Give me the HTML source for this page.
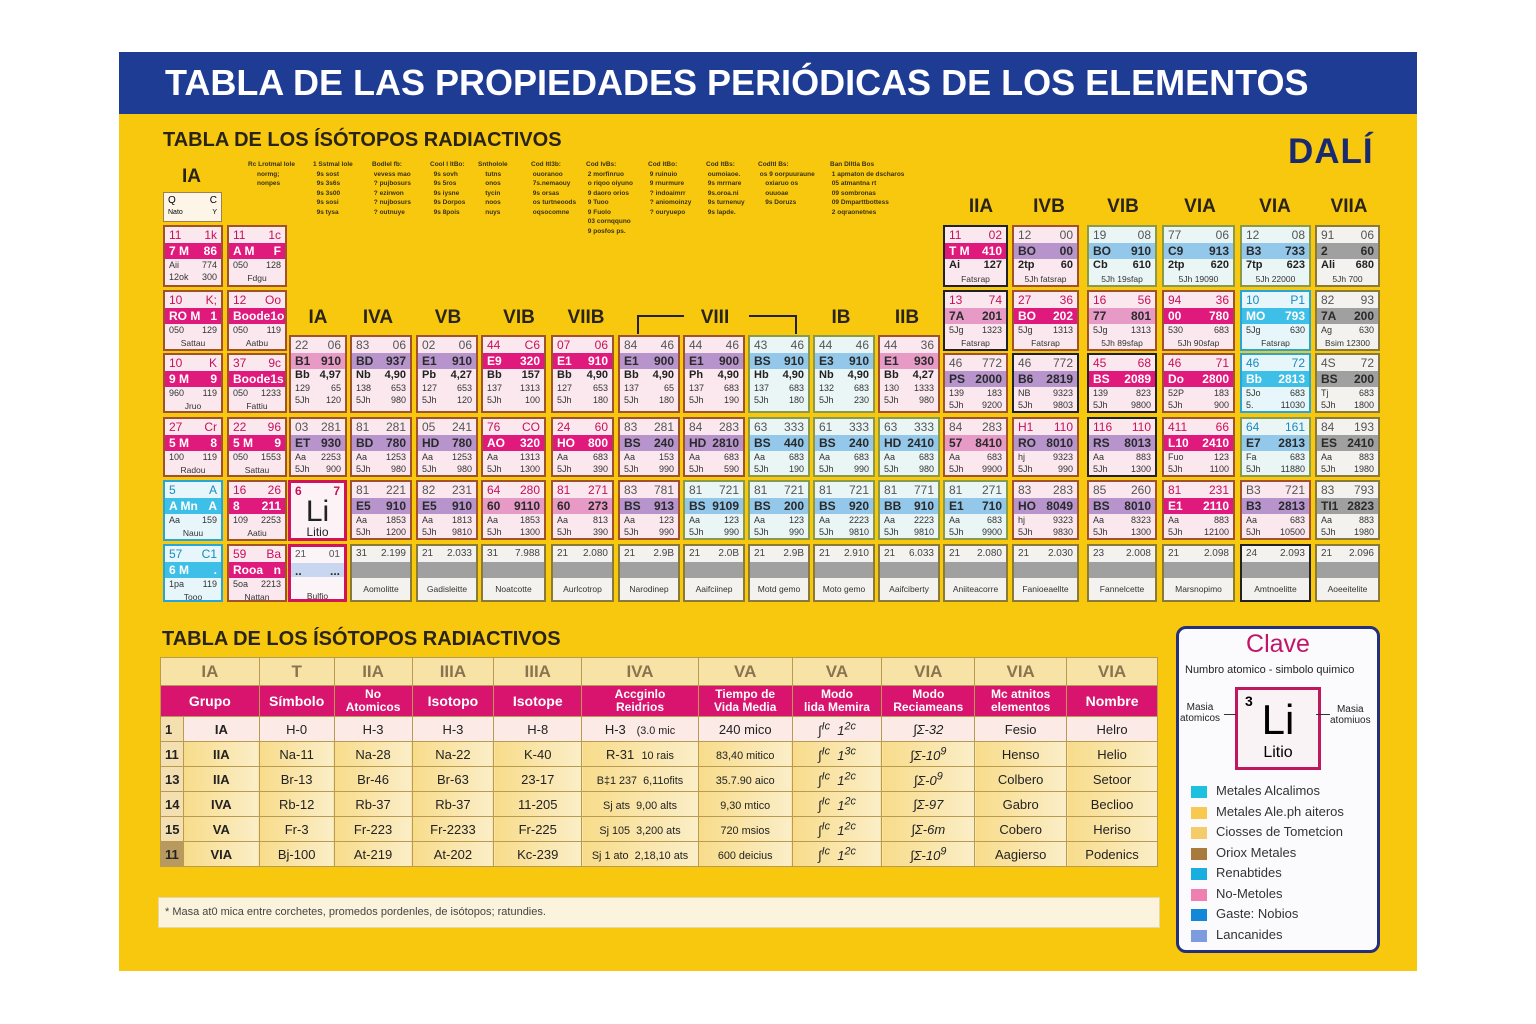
<!DOCTYPE html>
<html><head><meta charset="utf-8">
<style>
body{margin:0;width:1536px;height:1024px;background:#fff;position:relative;overflow:hidden;font-family:"Liberation Sans",sans-serif}
.a{position:absolute}
#panel{left:119px;top:52px;width:1298px;height:919px;background:#f8c80e}
#bar{left:119px;top:52px;width:1298px;height:62px;background:#1f3c95;color:#fff;font-weight:bold;font-size:36px;line-height:62px;box-sizing:border-box;padding-left:46px}
.hd{font-weight:bold;color:#2a2418;font-size:20px}
.gh{font-weight:bold;color:#2a2418;font-size:19px;text-align:center;width:70px}
.n{font-size:6.5px;font-weight:bold;color:#3a3010;line-height:9.5px;white-space:pre}
.c{position:absolute;box-sizing:border-box;border:2px solid #a0522d;background:#fbe8ef;font-size:9px;color:#333;overflow:hidden}
.c p{margin:0;display:flex;justify-content:space-between;padding:0 4px}
.c .t{font-size:12px;color:#c8105a;height:16px;line-height:16px}
.c .h{font-size:12px;font-weight:bold;height:16px;line-height:16px;color:#2a2a2a}
.c .r{line-height:12px;font-size:9px}
.c .r2{line-height:13px;font-size:11px;font-weight:bold;color:#222}
.c .nm{justify-content:center;font-size:8.5px;line-height:14px}
.m{background:#e0197d;color:#fff!important}
.v{background:#b794cc}
.k{background:#e79ac5}
.bl{background:#93c8ea}
.cy{background:#3dbfe8;color:#fff!important}
.g{background:#a0a0a0}
.cb{background:#eaf5f6;border-color:#8a9a4a}
.cc{background:#e6f6fa;border-color:#27a4d8}
.cg{background:#f3f2ee;border-color:#8a7a3a}
.cg .nm{margin-top:4px}
.ck{border-color:#222}
table{border-collapse:collapse;position:absolute;left:160px;top:657px;width:998px;font-size:13px;color:#222}
td{border:1px solid #b89a50;text-align:center;padding:0;height:24px}
.th1 td{background:#f7e3a6;color:#8a7450;font-weight:bold;font-size:17px;height:27px}
.th2 td{background:#d8146e;color:#fff;font-weight:bold;font-size:14px;height:30px;line-height:13px}
.th2 td.s{font-size:12px}
tr.r1 td{background:#fbeae6}
tr.ry td{background:linear-gradient(90deg,#f8dc8a,#fbeec8)}
td.no{background:#f3dfb0!important;font-weight:bold;text-align:left;padding-left:4px;width:18px}
.leg{position:absolute;left:1191px;width:16px;height:12px}
.lt{position:absolute;left:1216px;font-size:13px;color:#333}
</style></head><body>
<div class="a" id="panel"></div>
<div class="a" id="bar">TABLA DE LAS PROPIEDADES PERIÓDICAS DE LOS ELEMENTOS</div>
<div class="a hd" style="left:163px;top:129px">TABLA DE LOS ÍSÓTOPOS RADIACTIVOS</div>
<div class="a" style="left:1288px;top:132px;font-size:35px;font-weight:bold;color:#1a2a6e;letter-spacing:1px">DALÍ</div>
<div class="a hd" style="left:182px;top:166px;font-size:19px">IA</div>
<div class="a" style="left:163px;top:192px;width:59px;height:30px;background:#fdf6e8;border:1px solid #a08050;box-sizing:border-box;font-size:9px;padding:2px 4px;line-height:12px"><div style="display:flex;justify-content:space-between;font-size:10px"><span>Q</span><span>C</span></div><div style="display:flex;justify-content:space-between;font-size:7px"><span>Nato</span><span>Y</span></div></div>
<div class="a n" style="left:248px;top:160px">Rc Lrotmal lole
     normg;
     nonpes</div>
<div class="a n" style="left:313px;top:160px">1 Sstmal lole
  9s sost
  9s 3s6s
  9s 3s00
  9s sosi
  9s tysa</div>
<div class="a n" style="left:372px;top:160px">Bodlel fb:
 vevess mao
 ? pujbosurs
 ? ezirwon
 ? nujbosurs
 ? outnuye</div>
<div class="a n" style="left:430px;top:160px">Cool l ltBo:
  9s sovh
  9s 5ros
  9s iysne
  9s Dorpos
  9s 8pois</div>
<div class="a n" style="left:478px;top:160px">Sntholole
    tutns
    onos
    tycin
    noos
    nuys</div>
<div class="a n" style="left:531px;top:160px">Cod ltl3b:
 ouoranoo
 7s.nemaouy
 9s orsas
 os turtneoods
 oqsocomne</div>
<div class="a n" style="left:586px;top:160px">Cod lvBs:
 2 morfinruo
 o riqoo oiyuno
 9 daoro orios
 9 Tuoo
 9 Fuolo
 03 cornqquno
 9 posfos ps.</div>
<div class="a n" style="left:648px;top:160px">Cod ltBo:
 9 ruinuio
 9 rnurmure
 ? indoaimrr
 ? aniomoinzy
 ? ouryuepo</div>
<div class="a n" style="left:706px;top:160px">Cod ltBs:
 oumoiaoe.
 9s mrrnare
 9s.oroa.ni
 9s turnenuy
 9s lapde.</div>
<div class="a n" style="left:758px;top:160px">Codltl Bs:
 os 9 oorpuuraune
    oxiaruo os
    ouuoae
    9s Doruzs</div>
<div class="a n" style="left:830px;top:160px">Ban Dlltla Bos
 1 apmaton de dscharos
 05 atmantna rt
 09 sombronas
 09 Dmparttbottess
 2 oqraonetnes</div>

<div class="a gh" style="left:283px;top:307px">IA</div>
<div class="a gh" style="left:343px;top:307px">IVA</div>
<div class="a gh" style="left:413px;top:307px">VB</div>
<div class="a gh" style="left:484px;top:307px">VIB</div>
<div class="a gh" style="left:551px;top:307px">VIIB</div>
<div class="a gh" style="left:680px;top:307px">VIII</div>
<div class="a" style="left:637px;top:315px;width:45px;height:17px;border-left:2px solid #222;border-top:2px solid #222"></div>
<div class="a" style="left:749px;top:315px;width:46px;height:17px;border-right:2px solid #222;border-top:2px solid #222"></div>
<div class="a gh" style="left:806px;top:307px">IB</div>
<div class="a gh" style="left:872px;top:307px">IIB</div>
<div class="a gh" style="left:946px;top:196px">IIA</div>
<div class="a gh" style="left:1014px;top:196px">IVB</div>
<div class="a gh" style="left:1088px;top:196px">VIB</div>
<div class="a gh" style="left:1165px;top:196px">VIA</div>
<div class="a gh" style="left:1240px;top:196px">VIA</div>
<div class="a gh" style="left:1314px;top:196px">VIIA</div>

<div class="c" style="left:163px;top:225px;width:60px;height:62px"><p class="t"><span>11</span><span>1k</span></p><p class="h m"><span>7 M</span><span>86</span></p><p class="r"><span>Aii</span><span>774</span></p><p class="r"><span>12ok</span><span>300</span></p></div>
<div class="c" style="left:227px;top:225px;width:60px;height:62px"><p class="t"><span>11</span><span>1c</span></p><p class="h m"><span>A M</span><span>F</span></p><p class="r"><span>050</span><span>128</span></p><p class="nm">Fdgu</p></div>
<div class="c" style="left:163px;top:290px;width:60px;height:61px"><p class="t"><span>10</span><span>K;</span></p><p class="h m"><span>RO M</span><span>1</span></p><p class="r"><span>050</span><span>129</span></p><p class="nm">Sattau</p></div>
<div class="c" style="left:227px;top:290px;width:60px;height:61px"><p class="t"><span>12</span><span>Oo</span></p><p class="h m"><span>Boode</span><span>1o</span></p><p class="r"><span>050</span><span>119</span></p><p class="nm">Aatbu</p></div>
<div class="c" style="left:163px;top:353px;width:60px;height:60px"><p class="t"><span>10</span><span>K</span></p><p class="h m"><span>9 M</span><span>9</span></p><p class="r"><span>960</span><span>119</span></p><p class="nm">Jruo</p></div>
<div class="c" style="left:227px;top:353px;width:60px;height:60px"><p class="t"><span>37</span><span>9c</span></p><p class="h m"><span>Boode</span><span>1s</span></p><p class="r"><span>050</span><span>1233</span></p><p class="nm">Fattiu</p></div>
<div class="c" style="left:163px;top:417px;width:60px;height:60px"><p class="t"><span>27</span><span>Cr</span></p><p class="h m"><span>5 M</span><span>8</span></p><p class="r"><span>100</span><span>119</span></p><p class="nm">Radou</p></div>
<div class="c" style="left:227px;top:417px;width:60px;height:60px"><p class="t"><span>22</span><span>96</span></p><p class="h m"><span>5 M</span><span>9</span></p><p class="r"><span>050</span><span>1553</span></p><p class="nm">Sattau</p></div>
<div class="c cc" style="left:163px;top:480px;width:60px;height:61px"><p class="t" style="color:#1a8ac0"><span>5</span><span>A</span></p><p class="h cy"><span>A Mn</span><span>A</span></p><p class="r"><span>Aa</span><span>159</span></p><p class="nm">Nauu</p></div>
<div class="c" style="left:227px;top:480px;width:60px;height:61px"><p class="t"><span>16</span><span>26</span></p><p class="h m"><span>8</span><span>211</span></p><p class="r"><span>109</span><span>2253</span></p><p class="nm">Aatiu</p></div>
<div class="c cc" style="left:163px;top:544px;width:60px;height:58px"><p class="t" style="color:#1a8ac0"><span>57</span><span>C1</span></p><p class="h cy"><span>6 M</span><span>.</span></p><p class="r"><span>1pa</span><span>119</span></p><p class="nm">Tooo</p></div>
<div class="c" style="left:227px;top:544px;width:60px;height:58px"><p class="t"><span>59</span><span>Ba</span></p><p class="h m"><span>Rooa</span><span>n</span></p><p class="r"><span>5oa</span><span>2213</span></p><p class="nm">Nattan</p></div>

<div class="c" style="left:289px;top:335px;width:58px;height:78px"><p class="t" style="color:#555"><span>22</span><span>06</span></p><p class="h k"><span>B1</span><span>910</span></p><p class="r2"><span>Bb</span><span>4,97</span></p><p class="r"><span>129</span><span>65</span></p><p class="r"><span>5Jh</span><span>120</span></p></div>
<div class="c" style="left:350px;top:335px;width:62px;height:78px"><p class="t" style="color:#555"><span>83</span><span>06</span></p><p class="h v"><span>BD</span><span>937</span></p><p class="r2"><span>Nb</span><span>4,90</span></p><p class="r"><span>138</span><span>653</span></p><p class="r"><span>5Jh</span><span>980</span></p></div>
<div class="c" style="left:416px;top:335px;width:62px;height:78px"><p class="t" style="color:#555"><span>02</span><span>06</span></p><p class="h v"><span>E1</span><span>910</span></p><p class="r2"><span>Pb</span><span>4,27</span></p><p class="r"><span>127</span><span>653</span></p><p class="r"><span>5Jh</span><span>120</span></p></div>
<div class="c" style="left:481px;top:335px;width:65px;height:78px"><p class="t"><span>44</span><span>C6</span></p><p class="h m"><span>E9</span><span>320</span></p><p class="r2"><span>Bb</span><span>157</span></p><p class="r"><span>137</span><span>1313</span></p><p class="r"><span>5Jh</span><span>100</span></p></div>
<div class="c" style="left:551px;top:335px;width:63px;height:78px"><p class="t"><span>07</span><span>06</span></p><p class="h m"><span>E1</span><span>910</span></p><p class="r2"><span>Bb</span><span>4,90</span></p><p class="r"><span>127</span><span>653</span></p><p class="r"><span>5Jh</span><span>180</span></p></div>
<div class="c" style="left:618px;top:335px;width:62px;height:78px"><p class="t" style="color:#555"><span>84</span><span>46</span></p><p class="h v"><span>E1</span><span>900</span></p><p class="r2"><span>Bb</span><span>4,90</span></p><p class="r"><span>137</span><span>65</span></p><p class="r"><span>5Jh</span><span>180</span></p></div>
<div class="c" style="left:683px;top:335px;width:62px;height:78px"><p class="t" style="color:#555"><span>44</span><span>46</span></p><p class="h v"><span>E1</span><span>900</span></p><p class="r2"><span>Ph</span><span>4,90</span></p><p class="r"><span>137</span><span>683</span></p><p class="r"><span>5Jh</span><span>190</span></p></div>
<div class="c cb" style="left:748px;top:335px;width:62px;height:78px"><p class="t" style="color:#555"><span>43</span><span>46</span></p><p class="h bl"><span>BS</span><span>910</span></p><p class="r2"><span>Hb</span><span>4,90</span></p><p class="r"><span>137</span><span>683</span></p><p class="r"><span>5Jh</span><span>180</span></p></div>
<div class="c cb" style="left:813px;top:335px;width:62px;height:78px"><p class="t" style="color:#555"><span>44</span><span>46</span></p><p class="h bl"><span>E3</span><span>910</span></p><p class="r2"><span>Nb</span><span>4,90</span></p><p class="r"><span>132</span><span>683</span></p><p class="r"><span>5Jh</span><span>230</span></p></div>
<div class="c" style="left:878px;top:335px;width:62px;height:78px"><p class="t" style="color:#555"><span>44</span><span>36</span></p><p class="h k"><span>E1</span><span>930</span></p><p class="r2"><span>Bb</span><span>4,27</span></p><p class="r"><span>130</span><span>1333</span></p><p class="r"><span>5Jh</span><span>980</span></p></div>

<div class="c" style="left:289px;top:417px;width:58px;height:60px"><p class="t" style="color:#555"><span>03</span><span>281</span></p><p class="h v"><span>ET</span><span>930</span></p><p class="r"><span>Aa</span><span>2253</span></p><p class="r"><span>5Jh</span><span>900</span></p></div>
<div class="c" style="left:350px;top:417px;width:62px;height:60px"><p class="t" style="color:#555"><span>81</span><span>281</span></p><p class="h v"><span>BD</span><span>780</span></p><p class="r"><span>Aa</span><span>1253</span></p><p class="r"><span>5Jh</span><span>980</span></p></div>
<div class="c" style="left:416px;top:417px;width:62px;height:60px"><p class="t" style="color:#555"><span>05</span><span>241</span></p><p class="h v"><span>HD</span><span>780</span></p><p class="r"><span>Aa</span><span>1253</span></p><p class="r"><span>5Jh</span><span>980</span></p></div>
<div class="c" style="left:481px;top:417px;width:65px;height:60px"><p class="t"><span>76</span><span>CO</span></p><p class="h m"><span>AO</span><span>320</span></p><p class="r"><span>Aa</span><span>1313</span></p><p class="r"><span>5Jh</span><span>1300</span></p></div>
<div class="c" style="left:551px;top:417px;width:63px;height:60px"><p class="t"><span>24</span><span>60</span></p><p class="h m"><span>HO</span><span>800</span></p><p class="r"><span>Aa</span><span>683</span></p><p class="r"><span>5Jh</span><span>390</span></p></div>
<div class="c" style="left:618px;top:417px;width:62px;height:60px"><p class="t" style="color:#555"><span>83</span><span>281</span></p><p class="h v"><span>BS</span><span>240</span></p><p class="r"><span>Aa</span><span>153</span></p><p class="r"><span>5Jh</span><span>990</span></p></div>
<div class="c" style="left:683px;top:417px;width:62px;height:60px"><p class="t" style="color:#555"><span>84</span><span>283</span></p><p class="h v"><span>HD</span><span>2810</span></p><p class="r"><span>Aa</span><span>683</span></p><p class="r"><span>5Jh</span><span>590</span></p></div>
<div class="c cb" style="left:748px;top:417px;width:62px;height:60px"><p class="t" style="color:#555"><span>63</span><span>333</span></p><p class="h bl"><span>BS</span><span>440</span></p><p class="r"><span>Aa</span><span>683</span></p><p class="r"><span>5Jh</span><span>190</span></p></div>
<div class="c cb" style="left:813px;top:417px;width:62px;height:60px"><p class="t" style="color:#555"><span>61</span><span>333</span></p><p class="h bl"><span>BS</span><span>240</span></p><p class="r"><span>Aa</span><span>683</span></p><p class="r"><span>5Jh</span><span>990</span></p></div>
<div class="c cb" style="left:878px;top:417px;width:62px;height:60px"><p class="t" style="color:#555"><span>63</span><span>333</span></p><p class="h bl"><span>HD</span><span>2410</span></p><p class="r"><span>Aa</span><span>683</span></p><p class="r"><span>5Jh</span><span>980</span></p></div>

<div class="c" style="left:288px;top:480px;width:59px;height:61px;border:3px solid #d0145a;background:#fdf3f6;text-align:center"><p class="t" style="font-weight:bold"><span>6</span><span>7</span></p><div style="font-size:30px;line-height:26px;color:#222">Li</div><div style="font-size:12px;color:#222">Litio</div></div>
<div class="c" style="left:350px;top:480px;width:62px;height:60px"><p class="t" style="color:#555"><span>81</span><span>221</span></p><p class="h v"><span>E5</span><span>910</span></p><p class="r"><span>Aa</span><span>1853</span></p><p class="r"><span>5Jh</span><span>1200</span></p></div>
<div class="c" style="left:416px;top:480px;width:62px;height:60px"><p class="t" style="color:#555"><span>82</span><span>231</span></p><p class="h v"><span>E5</span><span>910</span></p><p class="r"><span>Aa</span><span>1813</span></p><p class="r"><span>5Jh</span><span>9810</span></p></div>
<div class="c" style="left:481px;top:480px;width:65px;height:60px"><p class="t"><span>64</span><span>280</span></p><p class="h k"><span>60</span><span>9110</span></p><p class="r"><span>Aa</span><span>1853</span></p><p class="r"><span>5Jh</span><span>1300</span></p></div>
<div class="c" style="left:551px;top:480px;width:63px;height:60px"><p class="t"><span>81</span><span>271</span></p><p class="h k"><span>60</span><span>273</span></p><p class="r"><span>Aa</span><span>813</span></p><p class="r"><span>5Jh</span><span>390</span></p></div>
<div class="c" style="left:618px;top:480px;width:62px;height:60px"><p class="t" style="color:#555"><span>83</span><span>781</span></p><p class="h v"><span>BS</span><span>913</span></p><p class="r"><span>Aa</span><span>123</span></p><p class="r"><span>5Jh</span><span>990</span></p></div>
<div class="c cb" style="left:683px;top:480px;width:62px;height:60px"><p class="t" style="color:#555"><span>81</span><span>721</span></p><p class="h bl"><span>BS</span><span>9109</span></p><p class="r"><span>Aa</span><span>123</span></p><p class="r"><span>5Jh</span><span>990</span></p></div>
<div class="c cb" style="left:748px;top:480px;width:62px;height:60px"><p class="t" style="color:#555"><span>81</span><span>721</span></p><p class="h bl"><span>BS</span><span>200</span></p><p class="r"><span>Aa</span><span>123</span></p><p class="r"><span>5Jh</span><span>990</span></p></div>
<div class="c cb" style="left:813px;top:480px;width:62px;height:60px"><p class="t" style="color:#555"><span>81</span><span>721</span></p><p class="h bl"><span>BS</span><span>920</span></p><p class="r"><span>Aa</span><span>2223</span></p><p class="r"><span>5Jh</span><span>9810</span></p></div>
<div class="c cb" style="left:878px;top:480px;width:62px;height:60px"><p class="t" style="color:#555"><span>81</span><span>771</span></p><p class="h bl"><span>BB</span><span>910</span></p><p class="r"><span>Aa</span><span>2223</span></p><p class="r"><span>5Jh</span><span>9810</span></p></div>

<div class="c" style="left:288px;top:544px;width:59px;height:58px;border:3px solid #d0145a;background:#fbf5f8"><p class="t" style="color:#555;font-size:10px"><span>21</span><span>01</span></p><p class="h" style="background:#c9d6f0;height:14px"><span>..</span><span>...</span></p><p class="r">&nbsp;</p><p class="nm">Bulfio</p></div>
<div class="c cg" style="left:350px;top:544px;width:62px;height:58px"><p class="t" style="color:#444;font-size:10px"><span>31</span><span>2.199</span></p><p class="h g"></p><p class="nm">Aomolitte</p></div>
<div class="c cg" style="left:416px;top:544px;width:62px;height:58px"><p class="t" style="color:#444;font-size:10px"><span>21</span><span>2.033</span></p><p class="h g"></p><p class="nm">Gadisleitte</p></div>
<div class="c cg" style="left:481px;top:544px;width:65px;height:58px"><p class="t" style="color:#444;font-size:10px"><span>31</span><span>7.988</span></p><p class="h g"></p><p class="nm">Noatcotte</p></div>
<div class="c cg" style="left:551px;top:544px;width:63px;height:58px"><p class="t" style="color:#444;font-size:10px"><span>21</span><span>2.080</span></p><p class="h g"></p><p class="nm">Aurlcotrop</p></div>
<div class="c cg" style="left:618px;top:544px;width:62px;height:58px"><p class="t" style="color:#444;font-size:10px"><span>21</span><span>2.9B</span></p><p class="h g"></p><p class="nm">Narodinep</p></div>
<div class="c cg" style="left:683px;top:544px;width:62px;height:58px"><p class="t" style="color:#444;font-size:10px"><span>21</span><span>2.0B</span></p><p class="h g"></p><p class="nm">Aaifciinep</p></div>
<div class="c cg" style="left:748px;top:544px;width:62px;height:58px"><p class="t" style="color:#444;font-size:10px"><span>21</span><span>2.9B</span></p><p class="h g"></p><p class="nm">Motd gemo</p></div>
<div class="c cg" style="left:813px;top:544px;width:62px;height:58px"><p class="t" style="color:#444;font-size:10px"><span>21</span><span>2.910</span></p><p class="h g"></p><p class="nm">Moto gemo</p></div>
<div class="c cg" style="left:878px;top:544px;width:62px;height:58px"><p class="t" style="color:#444;font-size:10px"><span>21</span><span>6.033</span></p><p class="h g"></p><p class="nm">Aaifciberty</p></div>

<div class="c ck" style="left:943px;top:225px;width:65px;height:62px"><p class="t"><span>11</span><span>02</span></p><p class="h m"><span>T M</span><span>410</span></p><p class="r2"><span>Ai</span><span>127</span></p><p class="nm">Fatsrap</p></div>
<div class="c" style="left:1012px;top:225px;width:67px;height:62px"><p class="t" style="color:#555"><span>12</span><span>00</span></p><p class="h v"><span>BO</span><span>00</span></p><p class="r2"><span>2tp</span><span>60</span></p><p class="nm">5Jh fatsrap</p></div>
<div class="c cb" style="left:1087px;top:225px;width:70px;height:62px"><p class="t" style="color:#555"><span>19</span><span>08</span></p><p class="h bl"><span>BO</span><span>910</span></p><p class="r2"><span>Cb</span><span>610</span></p><p class="nm">5Jh 19sfap</p></div>
<div class="c cb" style="left:1162px;top:225px;width:73px;height:62px"><p class="t" style="color:#555"><span>77</span><span>06</span></p><p class="h bl"><span>C9</span><span>913</span></p><p class="r2"><span>2tp</span><span>620</span></p><p class="nm">5Jh 19090</p></div>
<div class="c cb" style="left:1240px;top:225px;width:71px;height:62px"><p class="t" style="color:#555"><span>12</span><span>08</span></p><p class="h bl"><span>B3</span><span>733</span></p><p class="r2"><span>7tp</span><span>623</span></p><p class="nm">5Jh 22000</p></div>
<div class="c cg" style="left:1315px;top:225px;width:65px;height:62px"><p class="t" style="color:#555"><span>91</span><span>06</span></p><p class="h g"><span>2</span><span>60</span></p><p class="r2"><span>Ali</span><span>680</span></p><p class="nm" style="margin-top:0">5Jh 700</p></div>

<div class="c ck" style="left:943px;top:290px;width:65px;height:61px"><p class="t"><span>13</span><span>74</span></p><p class="h k"><span>7A</span><span>201</span></p><p class="r"><span>5Jg</span><span>1323</span></p><p class="nm">Fatsrap</p></div>
<div class="c" style="left:1012px;top:290px;width:67px;height:61px"><p class="t"><span>27</span><span>36</span></p><p class="h m"><span>BO</span><span>202</span></p><p class="r"><span>5Jg</span><span>1313</span></p><p class="nm">Fatsrap</p></div>
<div class="c" style="left:1087px;top:290px;width:70px;height:61px"><p class="t"><span>16</span><span>56</span></p><p class="h k"><span>77</span><span>801</span></p><p class="r"><span>5Jg</span><span>1313</span></p><p class="nm">5Jh 89sfap</p></div>
<div class="c" style="left:1162px;top:290px;width:73px;height:61px"><p class="t"><span>94</span><span>36</span></p><p class="h m"><span>00</span><span>780</span></p><p class="r"><span>530</span><span>683</span></p><p class="nm">5Jh 90sfap</p></div>
<div class="c cc" style="left:1240px;top:290px;width:71px;height:61px"><p class="t" style="color:#1a8ac0"><span>10</span><span>P1</span></p><p class="h cy"><span>MO</span><span>793</span></p><p class="r"><span>5Jg</span><span>630</span></p><p class="nm">Fatsrap</p></div>
<div class="c cg" style="left:1315px;top:290px;width:65px;height:61px"><p class="t" style="color:#555"><span>82</span><span>93</span></p><p class="h g"><span>7A</span><span>200</span></p><p class="r"><span>Ag</span><span>630</span></p><p class="nm" style="margin-top:0">Bsim 12300</p></div>

<div class="c" style="left:943px;top:353px;width:65px;height:60px"><p class="t" style="color:#555"><span>46</span><span>772</span></p><p class="h v"><span>PS</span><span>2000</span></p><p class="r"><span>139</span><span>183</span></p><p class="r"><span>5Jh</span><span>9200</span></p></div>
<div class="c ck" style="left:1012px;top:353px;width:67px;height:60px"><p class="t" style="color:#555"><span>46</span><span>772</span></p><p class="h v"><span>B6</span><span>2819</span></p><p class="r"><span>NB</span><span>9323</span></p><p class="r"><span>5Jh</span><span>9803</span></p></div>
<div class="c ck" style="left:1087px;top:353px;width:70px;height:60px"><p class="t"><span>45</span><span>68</span></p><p class="h m"><span>BS</span><span>2089</span></p><p class="r"><span>139</span><span>823</span></p><p class="r"><span>5Jh</span><span>9800</span></p></div>
<div class="c" style="left:1162px;top:353px;width:73px;height:60px"><p class="t"><span>46</span><span>71</span></p><p class="h m"><span>Do</span><span>2800</span></p><p class="r"><span>52P</span><span>183</span></p><p class="r"><span>5Jh</span><span>900</span></p></div>
<div class="c cc" style="left:1240px;top:353px;width:71px;height:60px"><p class="t" style="color:#1a8ac0"><span>46</span><span>72</span></p><p class="h cy"><span>Bb</span><span>2813</span></p><p class="r"><span>5Jo</span><span>683</span></p><p class="r"><span>5.</span><span>11030</span></p></div>
<div class="c cg" style="left:1315px;top:353px;width:65px;height:60px"><p class="t" style="color:#555"><span>4S</span><span>72</span></p><p class="h g"><span>BS</span><span>200</span></p><p class="r"><span>Tj</span><span>683</span></p><p class="r"><span>5Jh</span><span>1800</span></p></div>

<div class="c" style="left:943px;top:417px;width:65px;height:60px"><p class="t" style="color:#555"><span>84</span><span>283</span></p><p class="h k"><span>57</span><span>8410</span></p><p class="r"><span>Aa</span><span>683</span></p><p class="r"><span>5Jh</span><span>9900</span></p></div>
<div class="c" style="left:1012px;top:417px;width:67px;height:60px"><p class="t"><span>H1</span><span>110</span></p><p class="h v"><span>RO</span><span>8010</span></p><p class="r"><span>hj</span><span>9323</span></p><p class="r"><span>5Jh</span><span>990</span></p></div>
<div class="c ck" style="left:1087px;top:417px;width:70px;height:60px"><p class="t"><span>116</span><span>110</span></p><p class="h v"><span>RS</span><span>8013</span></p><p class="r"><span>Aa</span><span>883</span></p><p class="r"><span>5Jh</span><span>1300</span></p></div>
<div class="c" style="left:1162px;top:417px;width:73px;height:60px"><p class="t"><span>411</span><span>66</span></p><p class="h m"><span>L10</span><span>2410</span></p><p class="r"><span>Fuo</span><span>123</span></p><p class="r"><span>5Jh</span><span>1100</span></p></div>
<div class="c cb" style="left:1240px;top:417px;width:71px;height:60px"><p class="t" style="color:#1a8ac0"><span>64</span><span>161</span></p><p class="h bl"><span>E7</span><span>2813</span></p><p class="r"><span>Fa</span><span>683</span></p><p class="r"><span>5Jh</span><span>11880</span></p></div>
<div class="c cg" style="left:1315px;top:417px;width:65px;height:60px"><p class="t" style="color:#555"><span>84</span><span>193</span></p><p class="h g"><span>ES</span><span>2410</span></p><p class="r"><span>Aa</span><span>883</span></p><p class="r"><span>5Jh</span><span>1980</span></p></div>

<div class="c cb" style="left:943px;top:480px;width:65px;height:60px"><p class="t" style="color:#555"><span>81</span><span>271</span></p><p class="h bl"><span>E1</span><span>710</span></p><p class="r"><span>Aa</span><span>683</span></p><p class="r"><span>5Jh</span><span>9900</span></p></div>
<div class="c" style="left:1012px;top:480px;width:67px;height:60px"><p class="t" style="color:#555"><span>83</span><span>283</span></p><p class="h v"><span>HO</span><span>8049</span></p><p class="r"><span>hj</span><span>9323</span></p><p class="r"><span>5Jh</span><span>9830</span></p></div>
<div class="c" style="left:1087px;top:480px;width:70px;height:60px"><p class="t" style="color:#555"><span>85</span><span>260</span></p><p class="h v"><span>BS</span><span>8010</span></p><p class="r"><span>Aa</span><span>8323</span></p><p class="r"><span>5Jh</span><span>1300</span></p></div>
<div class="c" style="left:1162px;top:480px;width:73px;height:60px"><p class="t"><span>81</span><span>231</span></p><p class="h m"><span>E1</span><span>2110</span></p><p class="r"><span>Aa</span><span>883</span></p><p class="r"><span>5Jh</span><span>12100</span></p></div>
<div class="c" style="left:1240px;top:480px;width:71px;height:60px"><p class="t" style="color:#555"><span>B3</span><span>721</span></p><p class="h v"><span>B3</span><span>2813</span></p><p class="r"><span>Aa</span><span>683</span></p><p class="r"><span>5Jh</span><span>10500</span></p></div>
<div class="c cg" style="left:1315px;top:480px;width:65px;height:60px"><p class="t" style="color:#555"><span>83</span><span>793</span></p><p class="h g"><span>TI1</span><span>2823</span></p><p class="r"><span>Aa</span><span>883</span></p><p class="r"><span>5Jh</span><span>1980</span></p></div>

<div class="c cg" style="left:943px;top:544px;width:65px;height:58px"><p class="t" style="color:#444;font-size:10px"><span>21</span><span>2.080</span></p><p class="h g"></p><p class="nm">Aniiteacorre</p></div>
<div class="c cg" style="left:1012px;top:544px;width:67px;height:58px"><p class="t" style="color:#444;font-size:10px"><span>21</span><span>2.030</span></p><p class="h g"></p><p class="nm">Fanioeaellte</p></div>
<div class="c cg" style="left:1087px;top:544px;width:70px;height:58px"><p class="t" style="color:#444;font-size:10px"><span>23</span><span>2.008</span></p><p class="h g"></p><p class="nm">Fannelcette</p></div>
<div class="c cg" style="left:1162px;top:544px;width:73px;height:58px"><p class="t" style="color:#444;font-size:10px"><span>21</span><span>2.098</span></p><p class="h g"></p><p class="nm">Marsnopimo</p></div>
<div class="c cg ck" style="left:1240px;top:544px;width:71px;height:58px"><p class="t" style="color:#444;font-size:10px"><span>24</span><span>2.093</span></p><p class="h g"></p><p class="nm">Amtnoelitte</p></div>
<div class="c cg" style="left:1315px;top:544px;width:65px;height:58px"><p class="t" style="color:#444;font-size:10px"><span>21</span><span>2.096</span></p><p class="h g"></p><p class="nm">Aoeeitelite</p></div>

<div class="a hd" style="left:162px;top:628px">TABLA DE LOS ÍSÓTOPOS RADIACTIVOS</div>
<table>
<colgroup><col style="width:22px"><col style="width:76px"><col style="width:75px"><col style="width:78px"><col style="width:82px"><col style="width:88px"><col style="width:117px"><col style="width:94px"><col style="width:90px"><col style="width:93px"><col style="width:92px"><col style="width:91px"></colgroup>
<tr class="th1"><td colspan="2">IA</td><td>T</td><td>IIA</td><td>IIIA</td><td>IIIA</td><td>IVA</td><td>VA</td><td>VA</td><td>VIA</td><td>VIA</td><td>VIA</td></tr>
<tr class="th2"><td colspan="2">Grupo</td><td>Símbolo</td><td class="s">No<br>Atomicos</td><td>Isotopo</td><td>Isotope</td><td class="s">Accginlo<br>Reidrios</td><td class="s">Tiempo de<br>Vida Media</td><td class="s">Modo<br>lida Memira</td><td class="s">Modo<br>Reciameans</td><td class="s">Mc atnitos<br>elementos</td><td>Nombre</td></tr>
<tr class="r1"><td class="no">1</td><td><b>IA</b></td><td>H-0</td><td>H-3</td><td>H-3</td><td>H-8</td><td>H-3 &nbsp;&nbsp;<small>(3.0 mic</small></td><td>240 mico</td><td><i>∫<sup>Ic</sup> &nbsp;1<sup>2c</sup></i></td><td><i>∫Σ-32</i></td><td>Fesio</td><td>Helro</td></tr>
<tr class="ry"><td class="no">11</td><td><b>IIA</b></td><td>Na-11</td><td>Na-28</td><td>Na-22</td><td>K-40</td><td>R-31 &nbsp;<small>10 rais</small></td><td><small>83,40 mitico</small></td><td><i>∫<sup>Ic</sup> &nbsp;1<sup>3c</sup></i></td><td><i>∫Σ-10<sup>9</sup></i></td><td>Henso</td><td>Helio</td></tr>
<tr class="ry"><td class="no">13</td><td><b>IIA</b></td><td>Br-13</td><td>Br-46</td><td>Br-63</td><td>23-17</td><td><small>B‡1 237 &nbsp;6,11ofits</small></td><td><small>35.7.90 aico</small></td><td><i>∫<sup>Ic</sup> &nbsp;1<sup>2c</sup></i></td><td><i>∫Σ-0<sup>9</sup></i></td><td>Colbero</td><td>Setoor</td></tr>
<tr class="ry"><td class="no">14</td><td><b>IVA</b></td><td>Rb-12</td><td>Rb-37</td><td>Rb-37</td><td>11-205</td><td><small>Sj ats &nbsp;9,00 alts</small></td><td><small>9,30 mtico</small></td><td><i>∫<sup>Ic</sup> &nbsp;1<sup>2c</sup></i></td><td><i>∫Σ-97</i></td><td>Gabro</td><td>Beclioo</td></tr>
<tr class="ry"><td class="no">15</td><td><b>VA</b></td><td>Fr-3</td><td>Fr-223</td><td>Fr-2233</td><td>Fr-225</td><td><small>Sj 105 &nbsp;3,200 ats</small></td><td><small>720 msios</small></td><td><i>∫<sup>Ic</sup> &nbsp;1<sup>2c</sup></i></td><td><i>∫Σ-6m</i></td><td>Cobero</td><td>Heriso</td></tr>
<tr class="ry"><td class="no" style="background:#b89a60!important">11</td><td><b>VIA</b></td><td>Bj-100</td><td>At-219</td><td>At-202</td><td>Kc-239</td><td><small>Sj 1 ato &nbsp;2,18,10 ats</small></td><td><small>600 deicius</small></td><td><i>∫<sup>Ic</sup> &nbsp;1<sup>2c</sup></i></td><td><i>∫Σ-10<sup>9</sup></i></td><td>Aagierso</td><td>Podenics</td></tr>
</table>
<div class="a" style="left:158px;top:897px;width:1002px;height:31px;background:#fcf3dc;border:1px solid #e6d8a8;box-sizing:border-box;font-size:11px;color:#444;line-height:29px;padding-left:6px">* Masa at0 mica entre corchetes, promedos pordenles, de isótopos; ratundies.</div>

<div class="a" style="left:1176px;top:626px;width:204px;height:327px;background:#fbfbfd;border:3px solid #24307a;border-radius:10px;box-sizing:border-box"></div>
<div class="a" style="left:1176px;top:630px;width:204px;text-align:center;font-size:25px;color:#c0156b">Clave</div>
<div class="a" style="left:1185px;top:664px;font-size:11px;color:#222">Numbro atomico - simbolo quimico</div>
<div class="a" style="left:1235px;top:687px;width:86px;height:83px;border:3px solid #c0185e;box-sizing:border-box;background:#faf3f5;text-align:center"><div class="a" style="left:7px;top:3px;font-size:14px;font-weight:bold">3</div><div style="font-size:42px;line-height:48px;margin-top:6px">Li</div><div style="font-size:16px;line-height:18px">Litio</div></div>
<div class="a" style="left:1180px;top:702px;font-size:10px;color:#222;text-align:center;line-height:11px">Masia<br>atomicos</div>
<div class="a" style="left:1330px;top:704px;font-size:10px;color:#222;text-align:center;line-height:11px">Masia<br>atomiuos</div>
<div class="a" style="left:1224px;top:714px;width:12px;border-top:1px solid #333"></div>
<div class="a" style="left:1316px;top:714px;width:14px;border-top:1px solid #333"></div>
<div class="leg" style="top:786px;background:#1ec0e0"></div><div class="lt" style="top:783px">Metales Alcalimos</div>
<div class="leg" style="top:807px;background:#f9c850"></div><div class="lt" style="top:804px">Metales Ale.ph aiteros</div>
<div class="leg" style="top:827px;background:#f6cc6a"></div><div class="lt" style="top:824px">Ciosses de Tometcion</div>
<div class="leg" style="top:848px;background:#a87a3c"></div><div class="lt" style="top:845px">Oriox Metales</div>
<div class="leg" style="top:868px;background:#18aee0"></div><div class="lt" style="top:865px">Renabtides</div>
<div class="leg" style="top:889px;background:#ef7fb0"></div><div class="lt" style="top:886px">No-Metoles</div>
<div class="leg" style="top:909px;background:#1488d8"></div><div class="lt" style="top:906px">Gaste: Nobios</div>
<div class="leg" style="top:930px;background:#7d9ce0"></div><div class="lt" style="top:927px">Lancanides</div>
</body></html>
